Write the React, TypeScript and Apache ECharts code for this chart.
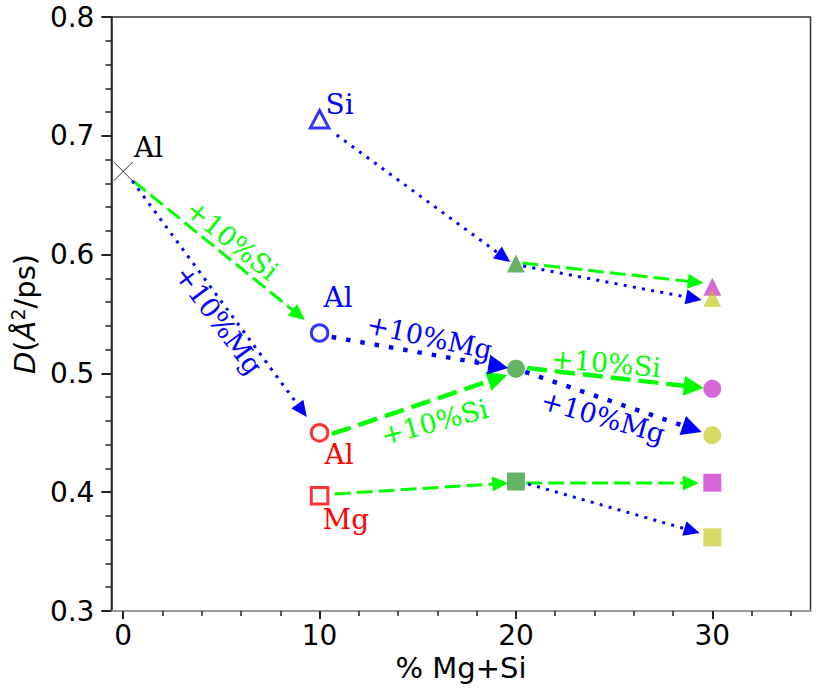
import React, { useEffect, useRef } from "react";
import * as echarts from "echarts";

// ---- data (x = % Mg+Si, y = D in Å^2/ps) ----
const xMajorTicks = [0, 10, 20, 30];
const xMinorTicks = [2, 4, 6, 8, 12, 14, 16, 18, 22, 24, 26, 28, 32, 34];
const yMajorTicks = [0.3, 0.4, 0.5, 0.6, 0.7, 0.8];

const pureAl = [[0, 0.67]];
const start10Si = [[10, 0.714]];
const start10AlBlue = [[10, 0.534]];
const start10AlRed = [[10, 0.45]];
const start10Mg = [[10, 0.397]];
const mid20 = [[20, 0.5925], [20, 0.504], [20, 0.409]];
const end30Si = [[30, 0.573], [30, 0.487], [30, 0.408]];
const end30Mg = [[30, 0.5635], [30, 0.448], [30, 0.362]];
const markerShapes = ["triangle", "circle", "rect"];

// arrows: [x start, y start, x tip, y tip]
const siArrowsThin = [
  [0.51, 0.662, 9.25, 0.545],
  [20.32, 0.5929, 29.56, 0.5761],
  [10.77, 0.3985, 19.61, 0.4077],
  [20.52, 0.4077, 29.31, 0.4077],
];
const siArrowsThick = [
  [10.62, 0.449, 19.56, 0.4987],
  [20.57, 0.5045, 29.56, 0.4877],
];
const mgArrowsThin = [
  [0.46, 0.662, 9.35, 0.4633],
  [10.87, 0.7007, 19.71, 0.5938],
  [20.37, 0.5904, 29.46, 0.5618],
  [20.62, 0.4069, 29.36, 0.3657],
];
const mgArrowsThick = [
  [10.62, 0.5306, 19.61, 0.5045],
  [20.47, 0.5012, 29.46, 0.4507],
];

// point labels
const blackLabelPos = [[0.55, 0.6901]];
const blackLabelText = ["Al"];
const blueLabelPos = [[10.3, 0.7263], [10.2, 0.5635]];
const blueLabelText = ["Si", "Al"];
const redLabelPos = [[10.25, 0.4317], [10.15, 0.377]];
const redLabelText = ["Al", "Mg"];

// arrow notes
const siNotePos = [[5.54, 0.6123], [15.85, 0.4591], [24.59, 0.5088]];
const siNoteText = ["+10%Si", "+10%Si", "+10%Si"];
const siNoteAngle = [-39, 15, -5];
const mgNotePos = [[4.87, 0.5449], [15.6, 0.5306], [24.43, 0.4633]];
const mgNoteText = ["+10%Mg", "+10%Mg", "+10%Mg"];
const mgNoteAngle = [-53.5, -12, -16];

const BLUE = "#0000ff";
const RED = "#ff0000";
const LIME = "#00ff00";

function arrowSeries(data: number[][], color: string, lw: number, dash: number[], headLen: number, headW: number) {
  return {
    type: "custom",
    coordinateSystem: "cartesian2d",
    silent: true,
    clip: false,
    z: 2,
    data,
    renderItem: (_params: any, api: any) => {
      const p0 = api.coord([api.value(0), api.value(1)]);
      const p1 = api.coord([api.value(2), api.value(3)]);
      const dx = p1[0] - p0[0];
      const dy = p1[1] - p0[1];
      const len = Math.hypot(dx, dy) || 1;
      const ux = dx / len;
      const uy = dy / len;
      const bx = p1[0] - ux * headLen;
      const by = p1[1] - uy * headLen;
      const nx = -uy;
      const ny = ux;
      return {
        type: "group",
        children: [
          {
            type: "line",
            shape: { x1: p0[0], y1: p0[1], x2: bx + ux * 2, y2: by + uy * 2 },
            style: { stroke: color, lineWidth: lw, lineDash: dash, lineCap: "butt", fill: null },
          },
          {
            type: "polygon",
            shape: {
              points: [
                [p1[0], p1[1]],
                [bx + nx * headW, by + ny * headW],
                [bx - nx * headW, by - ny * headW],
              ],
            },
            style: { fill: color, stroke: null },
          },
        ],
      };
    },
  };
}

function textSeries(pos: number[][], texts: string[], color: string, size: number, align: string, angles?: number[]) {
  return {
    type: "custom",
    coordinateSystem: "cartesian2d",
    silent: true,
    clip: false,
    z: 5,
    data: pos,
    renderItem: (params: any, api: any) => {
      const p = api.coord([api.value(0), api.value(1)]);
      const i = params.dataIndex;
      return {
        type: "text",
        x: p[0],
        y: p[1],
        rotation: angles ? (angles[i] * Math.PI) / 180 : 0,
        style: {
          text: texts[i],
          x: 0,
          y: 0,
          fill: color,
          fontSize: size,
          fontFamily: "DejaVu Serif",
          align,
          verticalAlign: "middle",
        },
      };
    },
  };
}

export default function App() {
  const ref = useRef<HTMLDivElement>(null);
  useEffect(() => {
    if (!ref.current) return;
    const chart = echarts.init(ref.current, null, { renderer: "svg" });
    const tickFont = { fontFamily: "DejaVu Sans", fontSize: 28, color: "#000" };
    const xMin = -0.6;
    const xMax = 35;
    chart.setOption({
      animation: false,
      backgroundColor: "#fff",
      grid: {
        left: 110,
        right: 7.5,
        top: 17,
        bottom: 82,
        show: true,
        borderColor: "#333",
        borderWidth: 1.5,
        backgroundColor: "transparent",
      },
      xAxis: [
        {
          type: "value",
          min: xMin,
          max: xMax,
          position: "bottom",
          name: "% Mg+Si",
          nameLocation: "middle",
          nameGap: 40,
          nameTextStyle: { fontFamily: "DejaVu Sans", fontSize: 29, color: "#000" },
          axisLine: { show: true, onZero: false, lineStyle: { color: "#999", width: 2 } },
          axisTick: { show: true, customValues: xMajorTicks, length: 8, lineStyle: { color: "#222", width: 2 } },
          axisLabel: { show: true, customValues: xMajorTicks, margin: 10, ...tickFont, formatter: (v: number) => String(v) },
          splitLine: { show: false },
        },
        {
          type: "value",
          min: xMin,
          max: xMax,
          position: "bottom",
          axisLine: { show: false, onZero: false },
          axisTick: { show: true, customValues: xMinorTicks, length: 5, lineStyle: { color: "#222", width: 1.5 } },
          axisLabel: { show: false },
          splitLine: { show: false },
        },
      ],
      yAxis: {
        type: "value",
        min: 0.3,
        max: 0.8,
        interval: 0.1,
        name: "{i|D}({i|Å}{s|2}/ps)",
        nameLocation: "middle",
        nameGap: 70,
        nameRotate: 90,
        nameTextStyle: {
          fontFamily: "DejaVu Sans",
          fontSize: 29,
          color: "#000",
          rich: {
            i: { fontFamily: "DejaVu Sans", fontSize: 29, fontStyle: "italic", color: "#000" },
            s: { fontFamily: "DejaVu Sans", fontSize: 19, color: "#000", padding: [0, 0, 14, 0] },
          },
        },
        axisLine: { show: true, onZero: false, lineStyle: { color: "#222", width: 1.5 } },
        axisTick: { show: true, length: 10, lineStyle: { color: "#222", width: 2 } },
        minorTick: { show: true, splitNumber: 5, length: 6, lineStyle: { color: "#222", width: 1.5 } },
        axisLabel: {
          margin: 17,
          ...tickFont,
          formatter: (v: number) => {
            const m = yMajorTicks.find((t) => Math.abs(t - v) < 1e-6);
            return m !== undefined ? m.toFixed(1) : "";
          },
        },
        splitLine: { show: false },
        minorSplitLine: { show: false },
      },
      series: [
        arrowSeries(siArrowsThin, LIME, 3, [16, 6], 16, 7.5),
        arrowSeries(siArrowsThick, LIME, 4.5, [20, 8], 20, 10),
        arrowSeries(mgArrowsThin, BLUE, 3, [3, 6.3], 16, 7.5),
        arrowSeries(mgArrowsThick, BLUE, 4.5, [4.5, 10], 20, 10),
        {
          type: "scatter",
          data: pureAl,
          symbol: "path://M0 0L20 20M20 0L0 20",
          symbolSize: 19,
          itemStyle: { color: "rgba(0,0,0,0)", borderColor: "#000", borderWidth: 1 },
          z: 3,
          silent: true,
        },
        {
          type: "scatter",
          data: start10Si,
          symbol: "triangle",
          symbolSize: [18.5, 17.5],
          itemStyle: { color: "rgba(0,0,0,0)", borderColor: BLUE, borderWidth: 3 },
          z: 3,
          silent: true,
        },
        {
          type: "scatter",
          data: start10AlBlue,
          symbol: "circle",
          symbolSize: 16.5,
          itemStyle: { color: "rgba(0,0,0,0)", borderColor: BLUE, borderWidth: 3 },
          z: 3,
          silent: true,
        },
        {
          type: "scatter",
          data: start10AlRed,
          symbol: "circle",
          symbolSize: 16.5,
          itemStyle: { color: "rgba(0,0,0,0)", borderColor: RED, borderWidth: 3 },
          z: 3,
          silent: true,
        },
        {
          type: "scatter",
          data: start10Mg,
          symbol: "rect",
          symbolSize: 16.5,
          itemStyle: { color: "rgba(0,0,0,0)", borderColor: RED, borderWidth: 3 },
          z: 3,
          silent: true,
        },
        {
          type: "scatter",
          data: mid20.map((v, i) => ({ value: v, symbol: markerShapes[i] })),
          symbolSize: 18,
          itemStyle: { color: "#008000", opacity: 0.6 },
          z: 3,
          silent: true,
        },
        {
          type: "scatter",
          data: end30Si.map((v, i) => ({ value: v, symbol: markerShapes[i] })),
          symbolSize: 18,
          itemStyle: { color: "#bf00bf", opacity: 0.6 },
          z: 3,
          silent: true,
        },
        {
          type: "scatter",
          data: end30Mg.map((v, i) => ({ value: v, symbol: markerShapes[i] })),
          symbolSize: 18,
          itemStyle: { color: "#bfbf00", opacity: 0.6 },
          z: 3,
          silent: true,
        },
        textSeries(blackLabelPos, blackLabelText, "#000", 28, "left"),
        textSeries(blueLabelPos, blueLabelText, BLUE, 28, "left"),
        textSeries(redLabelPos, redLabelText, RED, 28, "left"),
        textSeries(siNotePos, siNoteText, LIME, 27, "center", siNoteAngle),
        textSeries(mgNotePos, mgNoteText, BLUE, 27, "center", mgNoteAngle),
      ],
    });
    return () => chart.dispose();
  }, []);
  return <div ref={ref} style={{ position: "fixed", left: 0, top: 0, width: 818, height: 693, background: "#fff" }} />;
}
